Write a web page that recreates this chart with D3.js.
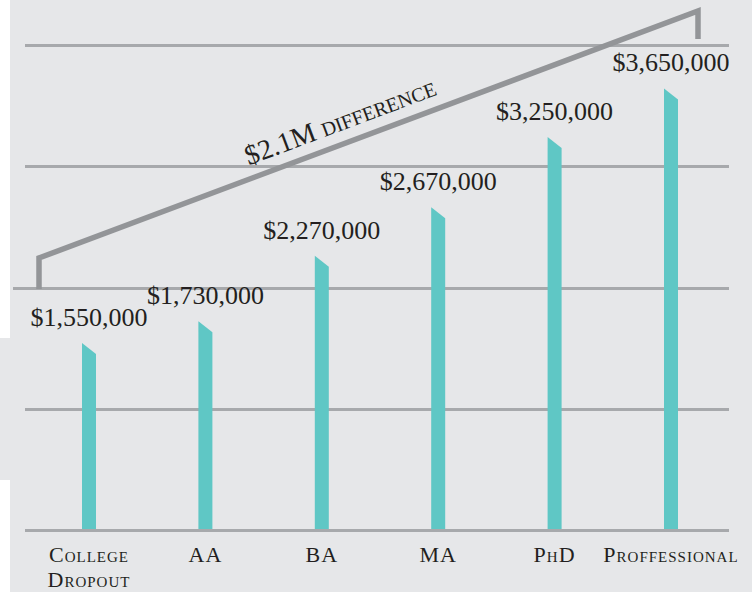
<!DOCTYPE html>
<html>
<head>
<meta charset="utf-8">
<script src="https://cdn.jsdelivr.net/npm/d3@7"></script>
<style>
  body { margin: 0; background: #ffffff; }
  svg { display: block; }
</style>
</head>
<body>
<div id="chart"></div>
<script>
// data
var categories = ["College Dropout", "AA", "BA", "MA", "PhD", "Proffessional"];
var earnings = [1550000, 1730000, 2270000, 2670000, 3250000, 3650000];
var gridValues = [0, 1000000, 2000000, 3000000, 4000000];
var differenceLabel = "$2.1M difference";

var width = 756;
var height = 592;

var svg = d3.select("#chart").append("svg")
            .attr("width", width)
            .attr("height", height);

// gray panel (with the small notch on the left)
svg.append("path")
   .attr("d", "M10,0 H752 V592 H10 V480 H0 V338 H10 Z")
   .attr("fill", "#e6e7e9");

var x = d3.scalePoint()
          .domain(categories)
          .range([89, 671]);

var y = d3.scaleLinear()
          .domain([0, 4000000])
          .range([531, 46]);

var fmt = d3.format("$,");

// gridlines
svg.selectAll("line.grid")
   .data(gridValues)
   .enter()
   .append("line")
   .attr("class", "grid")
   .attr("x1", function(d){
     return d == 2000000 ? 13 : 25;
   })
   .attr("x2", 729)
   .attr("y1", function(d){ return Math.round(y(d)) - 0.5; })
   .attr("y2", function(d){ return Math.round(y(d)) - 0.5; })
   .attr("stroke", "#a7a9ac")
   .attr("stroke-width", 3);

// bars with slanted tops
var barW = 14;
svg.selectAll("path.bar")
   .data(earnings)
   .enter()
   .append("path")
   .attr("class", "bar")
   .attr("d", function(d, i){
     var cx = x(categories[i]);
     var top = y(d);
     var base = y(0) - 2;
     return "M" + (cx - barW/2) + "," + base +
            "V" + top +
            "L" + (cx + barW/2) + "," + (top + 11) +
            "V" + base + "Z";
   })
   .attr("fill", "#5fc7c5");

// value labels
svg.selectAll("text.value")
   .data(earnings)
   .enter()
   .append("text")
   .attr("class", "value")
   .text(function(d){ return fmt(d); })
   .attr("x", function(d, i){ return x(categories[i]); })
   .attr("y", function(d){ return y(d) - 17; })
   .attr("text-anchor", "middle")
   .attr("fill", "#231f20")
   .attr("font-size", 26)
   .attr("font-family", "'Liberation Serif', serif");

// category labels (small caps, College Dropout wraps)
var cat = svg.selectAll("text.cat")
   .data(categories)
   .enter()
   .append("text")
   .attr("class", "cat")
   .attr("x", function(d){ return x(d); })
   .attr("y", 562)
   .attr("text-anchor", "middle")
   .attr("fill", "#231f20")
   .attr("font-size", 22)
   .attr("letter-spacing", 1)
   .style("font-variant", "small-caps")
   .attr("font-family", "'Liberation Serif', serif");

cat.each(function(d){
  var words = d == "College Dropout" ? d.split(" ") : [d];
  var t = d3.select(this);
  words.forEach(function(w, k){
    t.append("tspan")
     .attr("x", x(d))
     .attr("dy", k == 0 ? 0 : 25)
     .text(w);
  });
});

// bracket showing the difference
var bx1 = x(categories[0]) - 50;
var bx2 = x(categories[categories.length - 1]) + 27;
var by1 = 258;
var by2 = 11;
svg.append("path")
   .attr("d", "M" + bx1 + "," + 289 + " V" + by1 + " L" + bx2 + "," + by2 + " V" + 39)
   .attr("fill", "none")
   .attr("stroke", "#939598")
   .attr("stroke-width", 5.5)
   .attr("stroke-linejoin", "miter");

var angle = Math.atan2(by2 - by1, bx2 - bx1) * 180 / Math.PI;
var mx = 348, my = by1 + (mx - bx1) * (by2 - by1) / (bx2 - bx1);
svg.append("text")
   .attr("transform", "translate(" + mx + "," + my + ") rotate(" + angle + ") translate(0,-13)")
   .attr("text-anchor", "middle")
   .attr("fill", "#231f20")
   .attr("font-size", 28)
   .style("font-variant", "small-caps")
   .attr("font-family", "'Liberation Serif', serif")
   .text(differenceLabel);
</script>
</body>
</html>
